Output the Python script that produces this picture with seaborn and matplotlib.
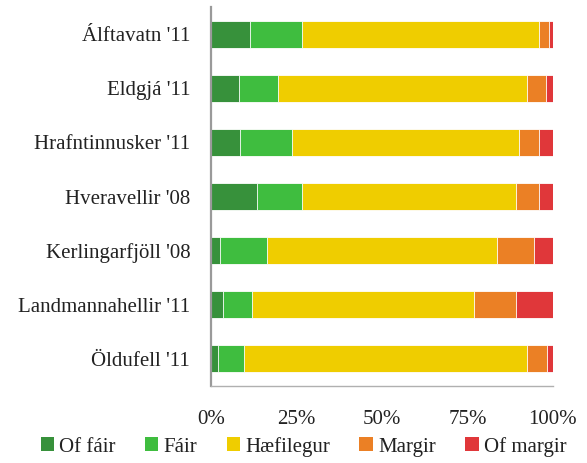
import matplotlib
matplotlib.use("Agg")
import matplotlib.pyplot as plt
from matplotlib.patches import Patch
import numpy as np
import pandas as pd
import seaborn as sns

sites = ["Álftavatn '11", "Eldgjá '11", "Hrafntinnusker '11", "Hveravellir '08",
         "Kerlingarfjöll '08", "Landmannahellir '11", "Öldufell '11"]
categories = ["Of fáir", "Fáir", "Hæfilegur", "Margir", "Of margir"]

of_fair = [11.3, 8.1, 8.6, 13.4, 2.7, 3.6, 2.0]
fair = [15.4, 11.6, 15.1, 13.1, 13.8, 8.5, 7.5]
haefilegur = [69.2, 72.7, 66.4, 62.8, 67.0, 64.7, 82.9]
margir = [3.0, 5.5, 5.9, 6.7, 11.1, 12.5, 5.8]
of_margir = [1.1, 2.1, 4.0, 4.0, 5.4, 10.7, 1.8]

tick_values = [0, 25, 50, 75, 100]
tick_labels = ["0%", "25%", "50%", "75%", "100%"]

colors = ["#37913b", "#3fbd3f", "#efcd00", "#eb8025", "#e0373a"]

sns.set_theme(style="white")
plt.rcParams["font.family"] = ["Liberation Serif", "DejaVu Serif"]

df = pd.DataFrame({"site": sites, "Of fáir": of_fair, "Fáir": fair,
                   "Hæfilegur": haefilegur, "Margir": margir, "Of margir": of_margir})
cum = df[categories].cumsum(axis=1)

fig = plt.figure(figsize=(5.87, 4.63), dpi=100)
ax = fig.add_axes([0.3595, 0.1663, 0.5825, 0.8185])

# stacked bars: draw cumulative totals from the widest layer down
for cat, col in reversed(list(zip(categories, colors))):
    sns.barplot(x=cum[cat], y=df["site"], orient="h", color=col, width=0.5,
                edgecolor="white", linewidth=0.6, saturation=1, ax=ax)

ax.set_xlim(0, 100)
ax.set_ylim(6.5, -0.5)
ax.set_xticks(tick_values)
ax.set_xticklabels(tick_labels)
ax.set_xlabel("")
ax.set_ylabel("")
ax.tick_params(axis="x", length=0, pad=17, labelsize=15, labelcolor="#222222")
ax.tick_params(axis="y", length=0, pad=15, labelsize=15, labelcolor="#222222")

for side in ["top", "right"]:
    ax.spines[side].set_visible(False)
ax.spines["left"].set_color("#9a9a9a")
ax.spines["left"].set_linewidth(1.6)
ax.spines["bottom"].set_color("#b0b0b0")
ax.spines["bottom"].set_linewidth(1.0)

handles = [Patch(facecolor=c, edgecolor="none", label=l) for l, c in zip(categories, colors)]
fig.legend(handles=handles, loc="center", bbox_to_anchor=(0.517, 0.035), ncol=5,
           frameon=False, fontsize=15, handlelength=0.65, handleheight=0.65,
           handletextpad=0.25, columnspacing=1.4, labelcolor="#222222")

fig.savefig("out.png", dpi=100)
